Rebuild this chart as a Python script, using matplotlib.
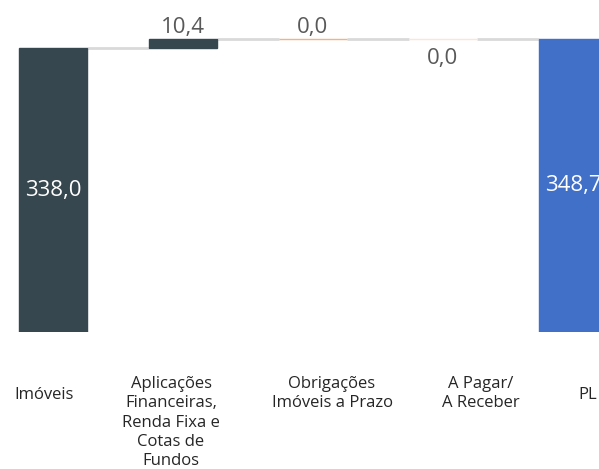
import numpy as np
import matplotlib
matplotlib.use("Agg")
import matplotlib.pyplot as plt
from matplotlib.transforms import offset_copy

categories = ["Imóveis",
              "Aplicações\nFinanceiras,\nRenda Fixa e\nCotas de\nFundos",
              "Obrigações\nImóveis a Prazo",
              "A Pagar/\nA Receber",
              "PL"]
values = [338.0, 10.4, 0.04, -0.04, 348.7]
kinds = ["total", "delta", "delta", "delta", "total"]
colors = ["#36474F", "#36474F", "#F4B183", "#FCE4D6", "#4170C9"]

# category label centres in pixels (the labels sit in their own row, not under the bars)
label_px = [44, 171, 332, 481, 588]

W, H = 599, 469
fig = plt.figure(figsize=(W / 100, H / 100), dpi=100)
ax = fig.add_axes([0, (H - 332) / H, 1, 332 / H])
ax.set_axis_off()

width = 68 / 130
x = np.arange(len(categories))

running = 0.0
bottoms, tops, levels = [], [], []
for v, k in zip(values, kinds):
    if k == "total":
        b, t = 0.0, v
        running = v
    else:
        b, t = running, running + v
        running = t
    bottoms.append(min(b, t))
    tops.append(max(b, t))
    levels.append(running)

for i in x:
    ax.bar(i, tops[i] - bottoms[i], bottom=bottoms[i], width=width,
           color=colors[i], edgecolor=colors[i], linewidth=1, zorder=3)

# connector lines
for i in x[:-1]:
    ax.plot([i + width / 2, i + 1 - width / 2], [levels[i], levels[i]],
            color="#D9D9D9", lw=2, zorder=2, solid_capstyle="butt")

# value labels
for i, (v, k) in enumerate(zip(values, kinds)):
    txt = f"{abs(v):.1f}".replace(".", ",")
    if k == "total":
        ax.text(i, (bottoms[i] + tops[i]) / 2, txt, ha="center", va="center",
                color="white", fontsize=16, family="Open Sans")
    elif v >= 0:
        tr = offset_copy(ax.transData, fig=fig, x=0, y=1, units="points")
        ax.text(i, tops[i], txt, ha="center", va="bottom", color="#595959",
                fontsize=16, family="Open Sans", transform=tr)
    else:
        tr = offset_copy(ax.transData, fig=fig, x=0, y=-6, units="points")
        ax.text(i, bottoms[i], txt, ha="center", va="top", color="#595959",
                fontsize=16, family="Open Sans", transform=tr)

# category labels
for lab, px in zip(categories, label_px):
    if "\n" in lab:
        fig.text(px / W, 1 - 376 / H, lab, ha="center", va="top",
                 fontsize=12, color="#262626", linespacing=1.28, family="Open Sans")
    else:
        fig.text(px / W, 1 - 395 / H, lab, ha="center", va="center",
                 fontsize=12, color="#262626", family="Open Sans")

ax.set_xlim(-53 / 130, (W - 53) / 130)
ax.set_ylim(0, 332 / 0.84)

fig.savefig("out.png", dpi=100)
